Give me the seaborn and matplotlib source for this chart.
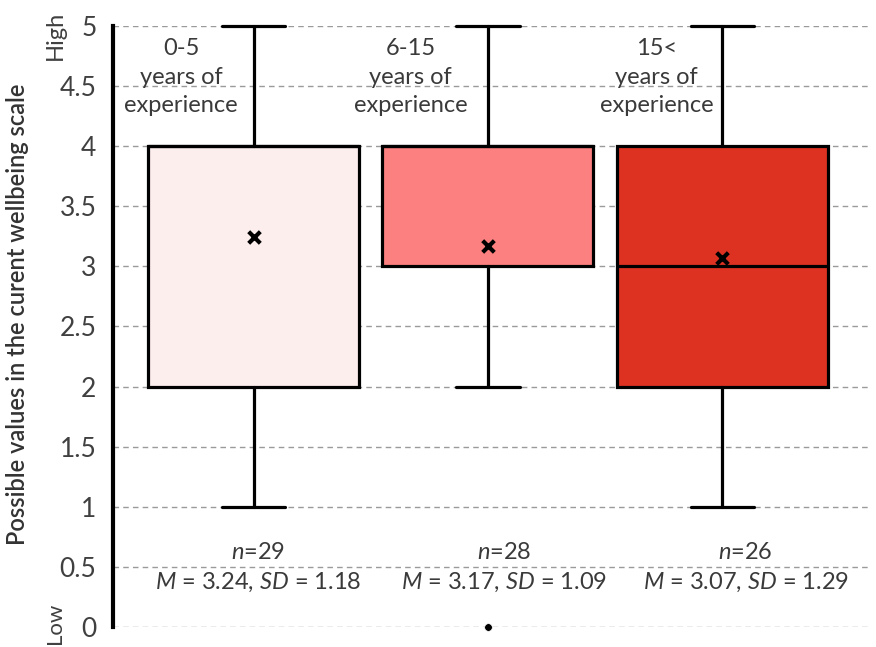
import matplotlib
matplotlib.use("Agg")
import matplotlib.pyplot as plt
import seaborn as sns

# values
groups = ["0-5\nyears of\nexperience", "6-15\nyears of\nexperience", "15<\nyears of\nexperience"]
whislo = [1, 2, 1]
q1 = [2, 3, 2]
med = [4, 4, 3]
q3 = [4, 4, 4]
whishi = [5, 5, 5]
fliers = [[], [0], []]
means = [3.24, 3.17, 3.07]
sds = [1.18, 1.09, 1.29]
ns = [29, 28, 26]
colors = ["#fdeeee", "#fd8080", "#dd3222"]
yticks = [0, 0.5, 1, 1.5, 2, 2.5, 3, 3.5, 4, 4.5, 5]

sns.set_style("white")
plt.rcParams["font.family"] = ["Lato", "DejaVu Sans"]
plt.rcParams["mathtext.fontset"] = "custom"
plt.rcParams["mathtext.rm"] = "Lato"
plt.rcParams["mathtext.it"] = "Lato:italic"

fig = plt.figure(figsize=(8.76, 6.47), dpi=100)
ax = fig.add_axes([0.129, 0.031, 0.864, 0.929])

pos = list(range(len(groups)))
stats = []
for i in pos:
    stats.append(dict(whislo=whislo[i], q1=q1[i], med=med[i], q3=q3[i],
                      whishi=whishi[i], fliers=[], label=""))

lw = 2.3
bp = ax.bxp(stats, positions=pos, widths=0.9, patch_artist=True,
            showfliers=False,
            boxprops=dict(linewidth=lw, edgecolor="black"),
            whiskerprops=dict(linewidth=lw, color="black"),
            capprops=dict(linewidth=lw, color="black"),
            medianprops=dict(linewidth=lw, color="black"),
            capwidths=0.27)
for patch, c in zip(bp["boxes"], colors):
    patch.set_facecolor(c)
for art in bp["caps"] + bp["whiskers"] + bp["boxes"] + bp["medians"]:
    art.set_clip_on(False)
    art.set_zorder(3)

# means
sns.scatterplot(x=pos, y=means, marker="x", s=70, color="black",
                linewidth=3, zorder=5, ax=ax, legend=False)

# outliers
fx = [i for i in pos for v in fliers[i]]
fy = [v for i in pos for v in fliers[i]]
sns.scatterplot(x=fx, y=fy, s=30, color="black", zorder=5, ax=ax,
                legend=False, clip_on=False)

ax.set_xlim(-0.6, 2.63)
ax.set_ylim(0, 5)
ax.set_yticks(yticks)
ax.set_yticklabels([f"{t:g}" for t in yticks], fontsize=19, color="#404040")
ax.set_xticks([])
ax.tick_params(axis="y", length=0, pad=12)
ax.yaxis.grid(True, linestyle=(0, (4, 3)), color="#9a9a9a", linewidth=1)
ax.set_axisbelow(True)
for s in ["top", "right", "bottom"]:
    ax.spines[s].set_visible(False)
ax.spines["left"].set_linewidth(3)
ax.spines["left"].set_color("black")

fig.text(18 / 876, 1 - 314 / 647, "Possible values in the curent wellbeing scale",
         rotation=90, fontsize=17, fontweight="semibold", color="#333333",
         ha="center", va="center")
fig.text(55 / 876, 1 - 35 / 647, "High", rotation=90, fontsize=17,
         color="#404040", ha="center", va="center")
fig.text(55 / 876, 1 - 623 / 647, "Low", rotation=90, fontsize=16,
         color="#404040", ha="center", va="center")

label_dx = [-0.31, -0.33, -0.28]
stat_dx = [0.02, 0.07, 0.1]
for i in pos:
    ax.text(i + label_dx[i], 4.9, groups[i], ha="center", va="top",
            fontsize=17, color="#3a3a3a", linespacing=1.45)
    ax.text(i + stat_dx[i], 0.62, f"$n$={ns[i]}", ha="center", va="center",
            fontsize=17, color="#3a3a3a")
    ax.text(i + stat_dx[i], 0.37, f"$M$ = {means[i]:.2f}, $SD$ = {sds[i]:.2f}",
            ha="center", va="center", fontsize=17, color="#3a3a3a")

fig.savefig("out.png", dpi=100)
